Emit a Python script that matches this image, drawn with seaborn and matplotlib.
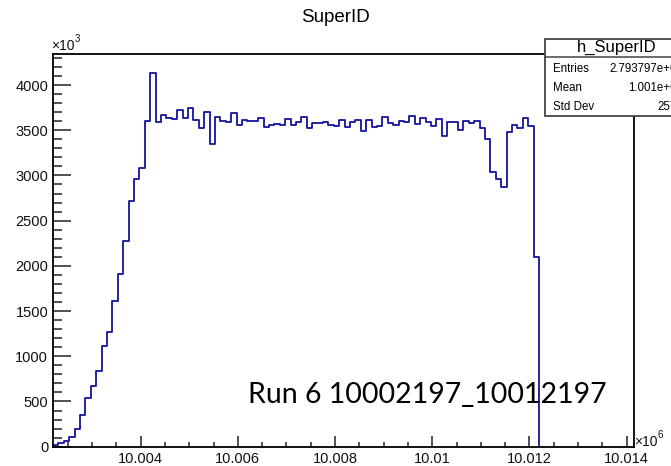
import numpy as np
import pandas as pd
import matplotlib
matplotlib.use("Agg")
import matplotlib.pyplot as plt
import seaborn as sns
from matplotlib.ticker import MultipleLocator, FixedLocator, FuncFormatter
from matplotlib.patches import Rectangle
from matplotlib.lines import Line2D

# ---------------- data ----------------
x_start = 10002197
x_stop = 10012197
n_bins = 90
counts_k = [19, 37, 63, 111, 192, 350, 535, 671, 834, 1113,
            1272, 1611, 1906, 2275, 2714, 2957, 3086, 3602, 4137, 3591,
            3665, 3639, 3624, 3724, 3639, 3742, 3613,
            3521, 3705, 3348, 3650, 3602, 3591, 3694, 3558, 3613, 3602,
            3602, 3640, 3532, 3558, 3565, 3558, 3624, 3558, 3595, 3650,
            3524, 3584, 3576, 3595, 3558, 3547, 3613, 3532, 3595, 3613,
            3492, 3613,
            3539, 3547, 3646, 3584, 3558, 3602, 3591, 3657, 3569, 3631,
            3591, 3550, 3624, 3440, 3591, 3591, 3502, 3598, 3576, 3598,
            3521, 3403, 3041, 2961, 2876, 3477, 3554, 3524, 3631, 3543,
            2095]
title = "SuperID"
stat_title = "h_SuperID"
stat_labels = ["Entries", "Mean", "Std Dev"]
stat_values = ["2.793797e+08", "1.001e+07", "2575"]
run_label = "Run 6 10002197_10012197"
x_ticks = [10004000, 10006000, 10008000, 10010000, 10012000, 10014000]
y_ticks = [0, 500, 1000, 1500, 2000, 2500, 3000, 3500, 4000]

# ---------------- style ----------------
sns.set_theme(style="white")
plt.rcParams['font.family'] = ['Liberation Sans', 'DejaVu Sans']

W, H = 671, 466
fig = plt.figure(figsize=(W / 100, H / 100), dpi=100)
ax = fig.add_axes([53 / W, (H - 446.7) / H, (634 - 53) / W, (446.7 - 54) / H])

edges = np.linspace(x_start, x_stop, n_bins + 1)
width = edges[1] - edges[0]
bin_edges = [float(e) for e in np.append(edges, x_stop + width)]
centers = list(edges[:-1] + width / 2) + [x_stop + width / 2]
weights = counts_k + [0]
df = pd.DataFrame({"superid": centers, "w": weights})

sns.histplot(data=df, x="superid", weights="w", bins=bin_edges,
             element="step", fill=False, color="#12129c", linewidth=1.3, ax=ax)

ax.set_xlim(x_start, 10014150)
ax.set_ylim(0, 4343)
ax.set_xlabel("")
ax.set_ylabel("")

for s in ax.spines.values():
    s.set_color("black")
    s.set_linewidth(1.3)

ax.xaxis.set_major_locator(FixedLocator(x_ticks))
ax.xaxis.set_minor_locator(MultipleLocator(500))
ax.xaxis.set_major_formatter(FuncFormatter(lambda v, p: f"{v / 1e6:g}"))
ax.yaxis.set_major_locator(FixedLocator(y_ticks))
ax.yaxis.set_minor_locator(MultipleLocator(100))

ax.tick_params(axis='y', which='major', direction='in', length=13, width=1.1,
               color='#222222', labelsize=10.5, pad=3.5, left=True, right=False)
ax.tick_params(axis='y', which='minor', direction='in', length=6.5, width=1.1,
               color='#222222', left=True, right=False)
ax.tick_params(axis='x', which='major', direction='in', length=8, width=1.1,
               color='#222222', labelsize=10.5, pad=3.5, bottom=True, top=False)
ax.tick_params(axis='x', which='minor', direction='in', length=3.6, width=1.1,
               color='#222222', bottom=True, top=False)
for lab in ax.get_xticklabels() + ax.get_yticklabels():
    lab.set_color('#111111')

# title
fig.text(0.5, 1 - 18 / H, title, ha='center', va='center', fontsize=13.5, color='black')

# exponent labels
fig.text(51 / W, 1 - 46 / H, "×10", ha='left', va='center', fontsize=10, color='#111111')
fig.text(74.5 / W, 1 - 39 / H, "3", ha='left', va='center', fontsize=7, color='#111111')
fig.text(634 / W, 1 - 442 / H, "×10", ha='left', va='center', fontsize=10, color='#111111')
fig.text(657.5 / W, 1 - 435 / H, "6", ha='left', va='center', fontsize=7, color='#111111')

# stats box
bx0, by_top, by_bot = 545, 39.3, 116
rect = Rectangle((bx0 / W, 1 - by_bot / H), (700 - bx0) / W, (by_bot - by_top) / H,
                 transform=fig.transFigure, facecolor='white', edgecolor='#444444',
                 linewidth=1.3, zorder=5)
fig.add_artist(rect)
fig.add_artist(Line2D([bx0 / W, 1.0], [1 - 57 / H, 1 - 57 / H], transform=fig.transFigure,
                      color='#444444', linewidth=1.1, zorder=6))
fig.text(617 / W, 1 - 47.5 / H, stat_title, ha='center', va='center', fontsize=12,
         color='black', zorder=7)
for i, (lab, val) in enumerate(zip(stat_labels, stat_values)):
    yy = 1 - (69 + 19 * i) / H
    fig.text(553 / W, yy, lab, ha='left', va='center', fontsize=8.3, color='black', zorder=7)
    fig.text(683 / W, yy, val, ha='right', va='center', fontsize=8.3, color='black', zorder=7)

# run label
fig.text(248 / W, 1 - 395 / H, run_label, ha='left', va='center', fontsize=20.5,
         family=['Lato', 'DejaVu Sans'], color='black')

fig.savefig("out.png", dpi=100)
